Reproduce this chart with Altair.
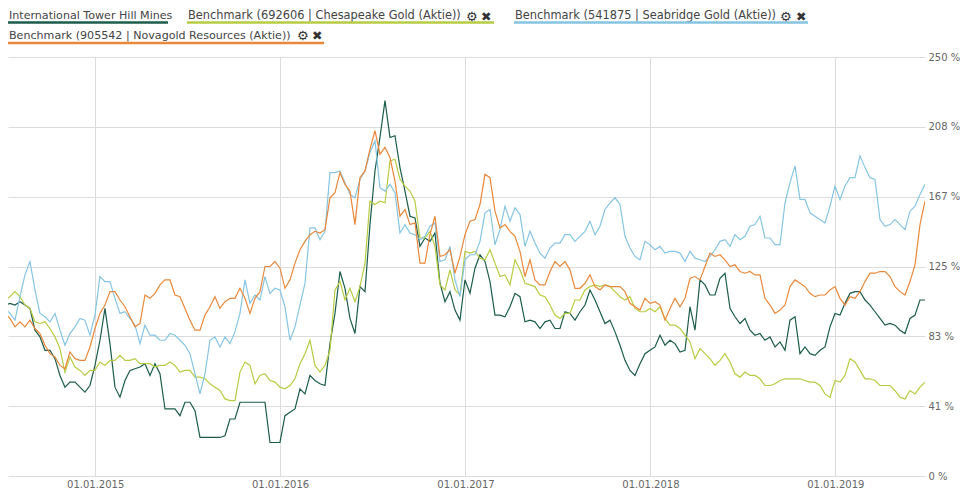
import altair as alt
import pandas as pd

# ---------------- data ----------------
series_names = [
    "International Tower Hill Mines",
    "Benchmark (692606 | Chesapeake Gold (Aktie))",
    "Benchmark (541875 | Seabridge Gold (Aktie))",
    "Benchmark (905542 | Novagold Resources (Aktie))",
]
line_colors = ["#1b5c4b", "#b7cc42", "#86c5e2", "#e9883a"]

dates = pd.date_range("2014-07-07", "2019-06-27", periods=185)

ith = [102,103,102,104,102,100,87,83,75,75,70,60,53,56,56,53,50,54,66,81,100,79,53,47,57,63,64,65,67,60,67,
       61,40,40,40,36,44,44,39,23,23,23,23,23,24,34,34,44,44,44,44,44,44,20,20,20,36,38,40,52,49,
       60,57,55,54,79,97,122,112,94,85,113,110,150,182,202,224,202,203,184,170,155,154,137,142,140,145,115,104,110,99,93,
       117,109,124,132,128,116,96,96,95,101,109,107,92,93,92,88,92,93,88,88,98,97,93,98,102,111,105,98,91,93,86,
       78,69,63,60,67,73,75,77,84,78,81,79,74,75,101,87,117,114,108,108,118,121,100,95,91,94,87,84,85,81,83,
       77,80,75,93,95,73,77,73,72,75,77,89,97,96,103,109,110,110,105,102,98,94,90,91,90,87,85,94,96,105,105]

chesapeake = [105,107,110,107,102,100,92,91,92,88,83,76,62,71,65,63,60,63,63,68,66,69,69,72,69,69,70,67,67,67,65,
              66,66,68,66,62,63,63,59,59,58,55,53,51,46,45,45,62,68,66,55,60,61,57,56,53,52,54,58,67,73,
              81,66,62,66,75,111,116,105,112,104,113,127,164,162,164,163,188,189,177,173,170,164,142,142,146,137,114,111,123,111,108,
              134,133,134,130,129,135,127,119,120,114,129,123,115,114,113,108,107,102,96,94,97,97,105,105,111,113,114,113,114,113,110,
              107,105,107,100,98,98,100,98,101,94,90,90,88,84,80,70,76,73,70,66,69,73,68,61,59,62,60,60,58,54,54,
              55,57,58,58,58,58,57,56,56,54,49,47,57,56,60,70,68,63,58,58,57,54,54,54,51,47,46,51,49,53,56]

seabridge = [100,97,93,107,120,128,111,97,95,92,97,87,78,85,89,94,93,84,96,119,116,116,106,97,98,94,90,79,90,84,84,
             81,81,85,84,81,78,73,61,49,61,81,83,77,83,79,86,97,117,103,108,105,119,109,112,111,101,81,89,102,115,
             148,148,141,146,181,181,182,175,168,166,177,182,193,200,172,170,174,169,145,150,145,144,141,143,149,151,128,129,137,117,107,
             129,132,132,140,157,159,138,147,161,152,160,156,137,146,139,133,130,136,139,139,144,144,140,143,146,152,144,149,159,163,166,
             162,143,136,131,129,140,138,135,137,133,134,134,133,128,134,130,129,128,131,135,140,141,137,144,141,143,149,150,155,142,142,
             138,138,163,175,185,165,165,157,155,153,151,161,173,165,173,178,178,191,184,178,177,153,149,150,153,150,147,158,161,168,174]

novagold = [97,94,89,92,89,93,88,85,78,73,71,66,64,74,70,69,69,77,88,97,102,110,110,105,101,95,89,91,108,106,109,
            114,117,117,108,107,100,93,87,87,96,101,107,100,104,106,106,112,106,97,106,110,125,125,128,124,112,117,127,135,140,
            144,146,145,147,166,169,181,174,170,150,178,182,195,206,192,196,190,176,155,159,150,151,127,127,144,155,131,132,135,121,131,
            144,152,153,162,180,178,158,148,150,146,143,134,119,129,117,114,114,122,128,125,128,123,112,112,115,120,113,111,114,113,113,
            113,110,103,101,99,106,103,104,102,93,100,106,101,106,118,119,117,125,133,131,132,129,125,126,122,121,122,120,120,106,102,
            97,99,102,113,117,115,113,109,107,108,108,111,113,106,102,107,106,110,116,121,121,122,122,119,113,110,108,116,126,150,164]

y_tick_values = [0, 250 / 6, 500 / 6, 125, 1000 / 6, 1250 / 6, 250]
y_tick_labels = ["0 %", "41 %", "83 %", "125 %", "167 %", "208 %", "250 %"]
x_tick_years = [2015, 2016, 2017, 2018, 2019]

# ---------------- table ----------------
wide = pd.DataFrame({
    "date": dates,
    series_names[0]: ith,
    series_names[1]: chesapeake,
    series_names[2]: seabridge,
    series_names[3]: novagold,
})
df = wide.melt(id_vars="date", var_name="series", value_name="value")
draw_order = {series_names[2]: 0, series_names[3]: 1, series_names[1]: 2, series_names[0]: 3}
df["z"] = df["series"].map(draw_order)

FONT = "DejaVu Sans"
GRID = "#dcdcdc"

label_expr = "[" + ",".join("'" + t + "'" for t in y_tick_labels) + "][round(datum.value * 6 / 250)]"

lines = alt.Chart(df).mark_line(strokeWidth=1.2, clip=True).encode(
    x=alt.X(
        "date:T",
        scale=alt.Scale(domain=[alt.DateTime(year=2014, month=7, date=13),
                                alt.DateTime(year=2019, month=6, date=27)]),
        axis=alt.Axis(
            values=[alt.DateTime(year=yr, month=1, date=1) for yr in x_tick_years],
            format="%d.%m.%Y", title=None, grid=True, gridColor=GRID, domain=False,
            ticks=False, tickSize=0, labelPadding=3, labelFont=FONT, labelFontSize=10,
            labelColor="#666666", labelFlush=False, labelOverlap=False,
        ),
    ),
    y=alt.Y(
        "value:Q",
        scale=alt.Scale(domain=[0, 250], nice=False),
        axis=alt.Axis(
            orient="right", values=y_tick_values, labelExpr=label_expr, title=None,
            grid=True, gridColor=GRID, domain=False, ticks=False, tickSize=0,
            labelPadding=3, labelFont=FONT, labelFontSize=10, labelColor="#666666",
            labelAlign="left", labelFlush=False, labelOverlap=False,
        ),
    ),
    color=alt.Color("series:N", scale=alt.Scale(domain=series_names, range=line_colors), legend=None),
    detail="z:O",
    order="z:Q",
)

# ---------------- custom legend (labels with coloured underlines) ----------------
one = alt.Data(values=[{"k": 0}])
legend_layers = []
legend_items = [
    # text, colour, font size, text x, row, underline end, has icons, gear x, cross x
    (series_names[0], line_colors[0], 11.1, 1, 0, 160, False, 0, 0),
    (series_names[1], line_colors[1], 11.4, 180, 0, 486, True, 458, 473),
    (series_names[2], line_colors[2], 11.4, 507, 0, 800, True, 772, 788),
    (series_names[3], line_colors[3], 11.1, 1, 1, 316, True, 289, 304),
]
row_text_y = [-38.5, -18]
row_line_y = [-34.5, -14]
row_icon_y = [-40.5, -21.5]
for text, col, fs, tx, row, uend, icons, gx, cx in legend_items:
    legend_layers.append(
        alt.Chart(one).mark_text(text=text, font=FONT, fontSize=fs, color="#444444",
                                 align="left", baseline="alphabetic")
        .encode(x=alt.value(tx), y=alt.value(row_text_y[row]))
    )
    legend_layers.append(
        alt.Chart(one).mark_rule(strokeWidth=2.5, color=col)
        .encode(x=alt.value(tx - 1), x2=alt.value(uend), y=alt.value(row_line_y[row]))
    )
    if icons:
        legend_layers.append(
            alt.Chart(one).mark_text(text="\u2699", font=FONT, fontSize=13, color="#333333",
                                     align="left", baseline="middle")
            .encode(x=alt.value(gx), y=alt.value(row_icon_y[row]))
        )
        legend_layers.append(
            alt.Chart(one).mark_text(text="\u2716", font=FONT, fontSize=12.5, color="#333333",
                                     align="left", baseline="middle")
            .encode(x=alt.value(cx), y=alt.value(row_icon_y[row]))
        )

chart = alt.layer(lines, *legend_layers).properties(
    width=917,
    height=419,
    padding={"left": 0, "top": 49, "right": 35, "bottom": 15},
    autosize=alt.AutoSizeParams(type="none"),
    background="white",
).configure_view(strokeWidth=0)

chart.save("out.html", embed_options={"renderer": "svg", "actions": False})
